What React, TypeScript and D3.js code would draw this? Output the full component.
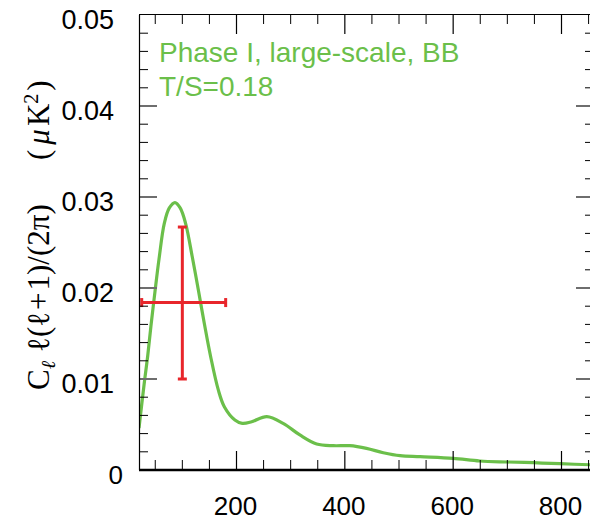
import React from "react";
import * as d3 from "d3";

// multipole moments (ℓ) and the BB band power curve Cℓ ℓ(ℓ+1)/(2π) in μK²
const ells = [20, 30, 36, 42, 49.5, 57, 66.7, 76, 86.4, 96, 106, 118.4, 129.5, 140.6, 152.3, 166.4, 177.5, 197, 210.6, 228, 256, 286, 317, 348, 379, 409, 440, 471, 502, 539, 600, 649, 699, 748, 797, 860];
const clValues = [0.0046, 0.0097, 0.0125, 0.0158, 0.0196, 0.0232, 0.0271, 0.0288, 0.02938, 0.0288, 0.0271, 0.0234, 0.0198, 0.0161, 0.01245, 0.0088, 0.00696, 0.0055, 0.00513, 0.0053, 0.00586, 0.00513, 0.00385, 0.00286, 0.00267, 0.00267, 0.00238, 0.0019, 0.00157, 0.00146, 0.00128, 0.00099, 0.00088, 0.0008, 0.00069, 0.00056];

// error bar (band power)
const binCenter = [100];
const binLow = [25];
const binHigh = [180];
const bandValue = [0.0184];
const bandLow = [0.010];
const bandHigh = [0.0267];

const xMajorTicks = [200, 400, 600, 800];
const xMinorTicks = [50, 100, 150, 250, 300, 350, 450, 500, 550, 650, 700, 750, 850];
const yMajorTicks = [0, 0.01, 0.02, 0.03, 0.04, 0.05];
const yTickLabels = ["0", "0.01", "0.02", "0.03", "0.04", "0.05"];
const yMinorTicks = [0.002, 0.004, 0.006, 0.008, 0.012, 0.014, 0.016, 0.018, 0.022, 0.024, 0.026, 0.028, 0.032, 0.034, 0.036, 0.038, 0.042, 0.044, 0.046, 0.048];
const legendLines = ["Phase I, large-scale, BB", "T/S=0.18"];

const GREEN = "#6bbf4a";
const RED = "#e8262b";
const SANS = "'Liberation Sans', Arial, Helvetica, sans-serif";
const SERIF = "'Liberation Serif', 'Times New Roman', serif";

export default function App() {
  const L = 139, R = 594, T = 15, B = 470;
  const x = d3.scaleLinear().domain([20, 860]).range([L, R]);
  const y = d3.scaleLinear().domain([0, 0.05]).range([B, T]);

  const pts: [number, number][] = ells.map((e, i) => [e, clValues[i]]);
  const line = d3
    .line<[number, number]>()
    .x((d) => x(d[0]))
    .y((d) => y(d[1]))
    .curve(d3.curveCatmullRom.alpha(0.5));

  const innerMajors = yMajorTicks.filter((t) => t > 0 && t < 0.05);

  return (
    <svg width={590} height={519} style={{ position: "absolute", left: 0, top: 0, background: "#fff" }}>
      <defs>
        <clipPath id="plotclip">
          <rect x={L} y={T} width={R - L} height={B - T} />
        </clipPath>
      </defs>

      {/* curve */}
      <path d={line(pts) || ""} fill="none" stroke={GREEN} strokeWidth={3.2} clipPath="url(#plotclip)" />

      {/* error bar */}
      {binCenter.map((c, i) => (
        <g key={i} stroke={RED} strokeWidth={3} fill="none">
          <line x1={x(c)} x2={x(c)} y1={y(bandLow[i])} y2={y(bandHigh[i])} />
          <line x1={x(c) - 4.5} x2={x(c) + 4.5} y1={y(bandLow[i])} y2={y(bandLow[i])} />
          <line x1={x(c) - 4.5} x2={x(c) + 4.5} y1={y(bandHigh[i])} y2={y(bandHigh[i])} />
          <line x1={x(binLow[i])} x2={x(binHigh[i])} y1={y(bandValue[i])} y2={y(bandValue[i])} />
          <line x1={x(binLow[i])} x2={x(binLow[i])} y1={y(bandValue[i]) - 4.5} y2={y(bandValue[i]) + 4.5} />
          <line x1={x(binHigh[i])} x2={x(binHigh[i])} y1={y(bandValue[i]) - 4.5} y2={y(bandValue[i]) + 4.5} />
        </g>
      ))}

      {/* x ticks */}
      {xMajorTicks.map((t) => (
        <g key={"xm" + t} stroke="#000" strokeWidth={1.2}>
          <line x1={x(t)} x2={x(t)} y1={B} y2={B - 19} />
          <line x1={x(t)} x2={x(t)} y1={T} y2={T + 19} />
        </g>
      ))}
      {xMinorTicks.map((t) => (
        <g key={"xn" + t} stroke="#000" strokeWidth={1}>
          <line x1={x(t)} x2={x(t)} y1={B} y2={B - 10} />
          <line x1={x(t)} x2={x(t)} y1={T} y2={T + 9} />
        </g>
      ))}

      {/* y ticks */}
      {innerMajors.map((t) => (
        <g key={"ym" + t} stroke="#6e6e6e" strokeWidth={2}>
          <line x1={L} x2={L + 18} y1={y(t)} y2={y(t)} />
          <line x1={R} x2={R - 18} y1={y(t)} y2={y(t)} />
        </g>
      ))}
      {yMinorTicks.map((t) => (
        <g key={"yn" + t} stroke="#000" strokeWidth={1}>
          <line x1={L} x2={L + 9} y1={y(t)} y2={y(t)} />
          <line x1={R} x2={R - 9} y1={y(t)} y2={y(t)} />
        </g>
      ))}

      {/* frame */}
      <line x1={L + 0.5} x2={L + 0.5} y1={T} y2={B} stroke="#000" strokeWidth={1.2} />
      <line x1={L} x2={R} y1={T - 0.5} y2={T - 0.5} stroke="#000" strokeWidth={1} />
      <line x1={L} x2={R} y1={B} y2={B} stroke="#000" strokeWidth={2.5} />

      {/* tick labels */}
      {xMajorTicks.map((t) => (
        <text key={"xl" + t} x={x(t) - 1} y={514.5} textAnchor="middle" fontFamily={SANS} fontSize={26} fill="#000">
          {t}
        </text>
      ))}
      {yMajorTicks.map((t, i) =>
        i === 0 ? (
          <text key={"yl" + t} x={123} y={y(t) + 14} textAnchor="end" fontFamily={SANS} fontSize={26} fill="#000">
            {yTickLabels[i]}
          </text>
        ) : (
          <text key={"yl" + t} x={114} y={y(t) + 13.5} textAnchor="end" fontFamily={SANS} fontSize={27} fill="#000">
            {yTickLabels[i]}
          </text>
        )
      )}

      {/* legend */}
      {legendLines.map((s, i) => (
        <text key={s} x={159} y={62 + i * 33.5} fontFamily={SANS} fontSize={28} fill={GREEN}>
          {s}
        </text>
      ))}

      {/* y axis title */}
      <text transform="translate(49,390) rotate(-90)" fontFamily={SERIF} fontSize={31} fill="#000">
        <tspan>C</tspan>
        <tspan fontSize={20} fontStyle="italic" dy={6}>ℓ</tspan>
        <tspan dy={-6} dx={9}>ℓ(ℓ</tspan>
        <tspan dx={2}>+</tspan>
        <tspan dx={2}>1)/(2π)</tspan>
      </text>
      <text transform="translate(49,160) rotate(-90)" fontFamily={SERIF} fontSize={31} fill="#000">
        <tspan>(</tspan>
        <tspan fontStyle="italic" dx={5}>μ</tspan>
        <tspan dx={3}>K</tspan>
        <tspan fontSize={20} dy={-11}>2</tspan>
        <tspan dy={11} dx={3}>)</tspan>
      </text>
    </svg>
  );
}
